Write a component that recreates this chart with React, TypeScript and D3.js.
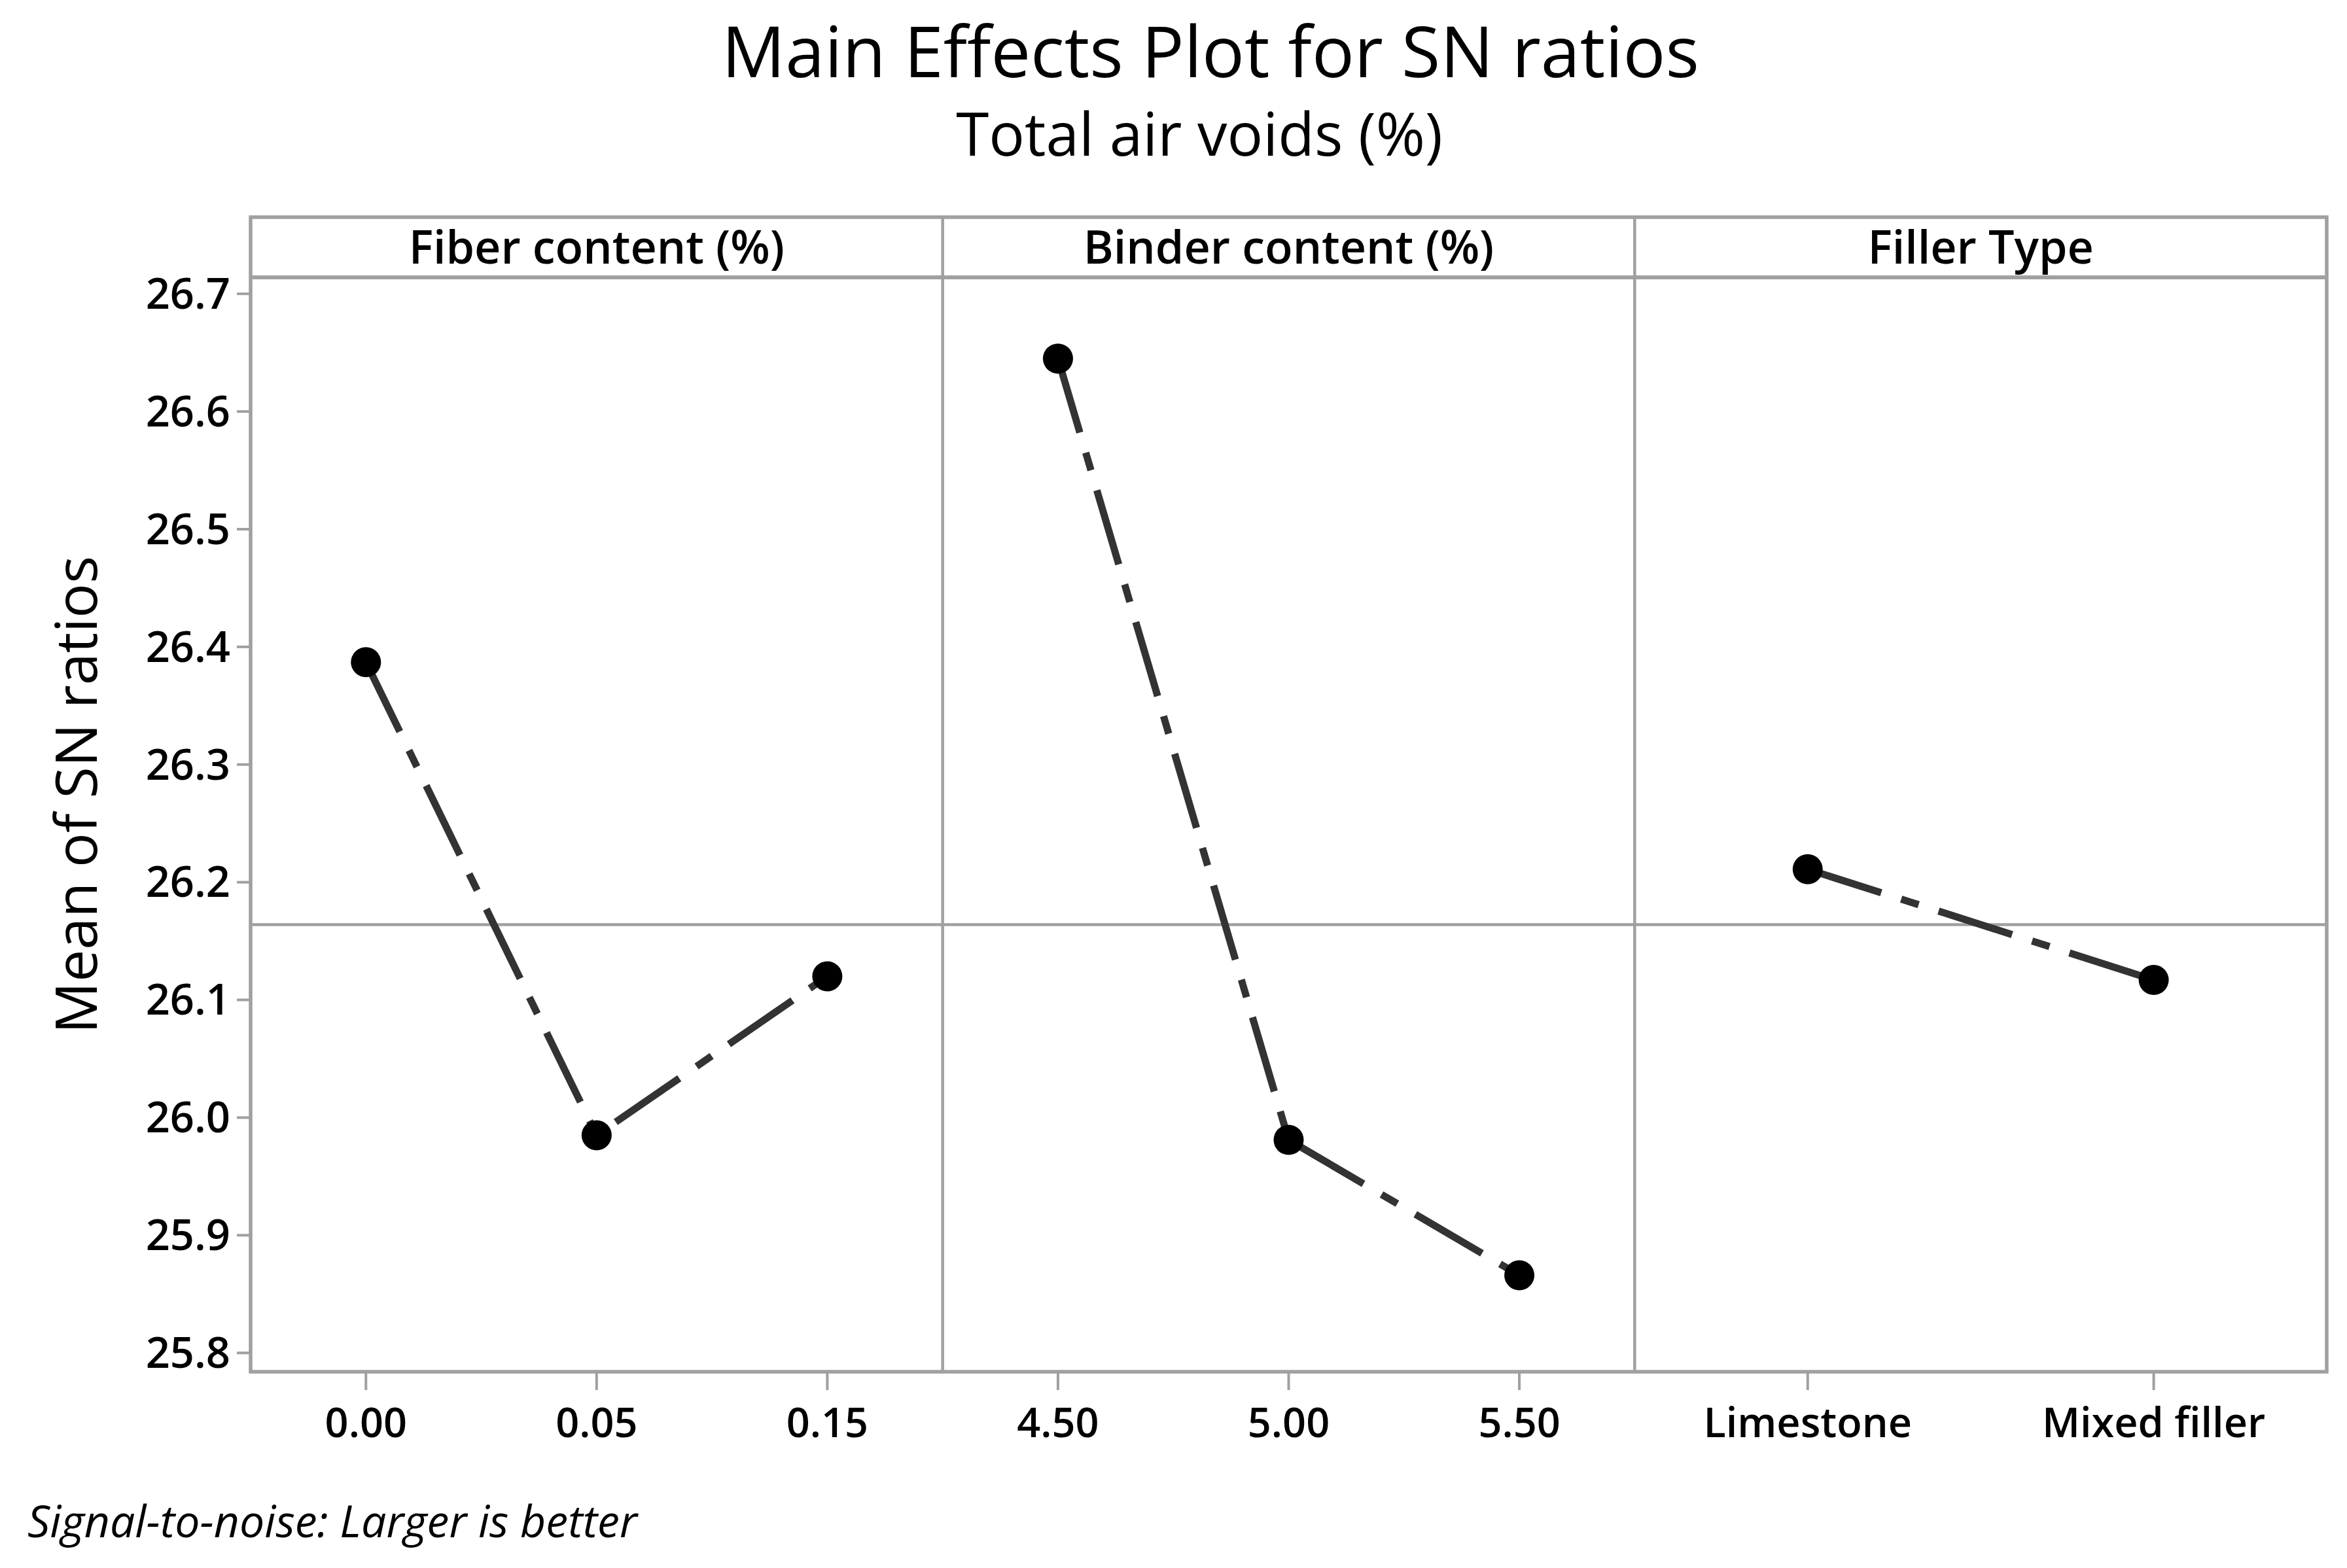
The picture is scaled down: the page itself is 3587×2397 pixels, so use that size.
import React from "react";
import * as d3 from "d3";

// ---- data ----
const fiberLevels = ["0.00", "0.05", "0.15"];
const fiberMeans = [26.387, 25.985, 26.12];
const binderLevels = ["4.50", "5.00", "5.50"];
const binderMeans = [26.645, 25.981, 25.866];
const fillerLevels = ["Limestone", "Mixed filler"];
const fillerMeans = [26.211, 26.117];
const factorNames = ["Fiber content (%)", "Binder content (%)", "Filler Type"];
const yTicks = [25.8, 25.9, 26.0, 26.1, 26.2, 26.3, 26.4, 26.5, 26.6, 26.7];
const titleText = "Main Effects Plot for SN ratios";
const subtitleText = "Total air voids (%)";
const yLabelText = "Mean of SN ratios";
const footerText = "Signal-to-noise: Larger is better";

const W = 3587;
const H = 2397;
const FONT = "'Open Sans', 'Noto Sans', sans-serif";
const GRID = "#a0a0a0";

export default function App() {
  const left = 383;
  const right = 3556;
  const stripTop = 332;
  const plotTop = 424;
  const plotBottom = 2097;
  const panelW = (right - left) / 3;

  const y = d3.scaleLinear().domain([25.784, 26.714]).range([plotBottom, plotTop]);

  const factors = [
    { name: factorNames[0], levels: fiberLevels, values: fiberMeans },
    { name: factorNames[1], levels: binderLevels, values: binderMeans },
    { name: factorNames[2], levels: fillerLevels, values: fillerMeans },
  ];

  const grand = d3.mean(fiberMeans) as number;

  const line = d3
    .line<[number, number]>()
    .x((d) => d[0])
    .y((d) => d[1]);

  return (
    <div style={{ position: "absolute", left: 0, top: 0 }}>
      <svg width={W} height={H} viewBox={`0 0 ${W} ${H}`} style={{ display: "block", background: "#fff" }}>
        <rect x={0} y={0} width={W} height={H} fill="#fff" />
        {/* titles */}
        <text x={1850} y={118} textAnchor="middle" fontFamily={FONT} fontWeight={500} fontSize={108} fill="#000">
          {titleText}
        </text>
        <text x={1833} y={238} textAnchor="middle" fontFamily={FONT} fontWeight={500} fontSize={91} fill="#000">
          {subtitleText}
        </text>

        {/* reference line */}
        <line x1={left} x2={right} y1={y(grand)} y2={y(grand)} stroke={GRID} strokeWidth={4.5} />

        {/* panels */}
        {factors.map((f, i) => {
          const x0 = left + i * panelW;
          const x1 = x0 + panelW;
          const x = d3.scalePoint<string>().domain(f.levels).range([x0, x1]).padding(0.5);
          const pts: [number, number][] = f.levels.map((l, j) => [x(l) as number, y(f.values[j])]);
          return (
            <g key={f.name}>
              <text
                x={(x0 + x1) / 2}
                y={403}
                textAnchor="middle"
                fontFamily={FONT}
                fontWeight={600}
                fontSize={70}
                fill="#000"
              >
                {f.name}
              </text>
              {f.levels.map((l) => (
                <g key={l}>
                  <line x1={x(l)} x2={x(l)} y1={plotBottom} y2={plotBottom + 28} stroke={GRID} strokeWidth={4} />
                  <text
                    x={x(l)}
                    y={2197}
                    textAnchor="middle"
                    fontFamily={FONT}
                    fontWeight={600}
                    fontSize={63}
                    fill="#000"
                  >
                    {l}
                  </text>
                </g>
              ))}
              <path
                d={line(pts) as string}
                fill="none"
                stroke="#333"
                strokeWidth={11}
                strokeDasharray="118 32 28 32"
              />
              {pts.map((p, j) => (
                <circle key={j} cx={p[0]} cy={p[1]} r={23} fill="#000" />
              ))}
            </g>
          );
        })}

        {/* panel dividers */}
        {[1, 2].map((i) => (
          <line
            key={i}
            x1={left + i * panelW}
            x2={left + i * panelW}
            y1={stripTop}
            y2={plotBottom}
            stroke={GRID}
            strokeWidth={4.5}
          />
        ))}
        {/* strip bottom */}
        <line x1={left} x2={right} y1={plotTop} y2={plotTop} stroke={GRID} strokeWidth={6} />
        {/* outer frame */}
        <rect
          x={left}
          y={stripTop}
          width={right - left}
          height={plotBottom - stripTop}
          fill="none"
          stroke={GRID}
          strokeWidth={5.5}
        />

        {/* y axis */}
        {yTicks.map((t) => (
          <g key={t}>
            <line x1={left - 21} x2={left} y1={y(t)} y2={y(t)} stroke={GRID} strokeWidth={4} />
            <text
              x={352}
              y={y(t)}
              dy="0.35em"
              textAnchor="end"
              fontFamily={FONT}
              fontWeight={600}
              fontSize={65}
              fill="#000"
            >
              {t.toFixed(1)}
            </text>
          </g>
        ))}
        <text
          transform={`translate(148,1215) rotate(-90)`}
          textAnchor="middle"
          fontFamily={FONT}
          fontWeight={500}
          fontSize={88}
          fill="#000"
        >
          {yLabelText}
        </text>

        {/* footer */}
        <text x={42} y={2350} fontFamily={FONT} fontStyle="italic" fontSize={68} fill="#000">
          {footerText}
        </text>
      </svg>
    </div>
  );
}
